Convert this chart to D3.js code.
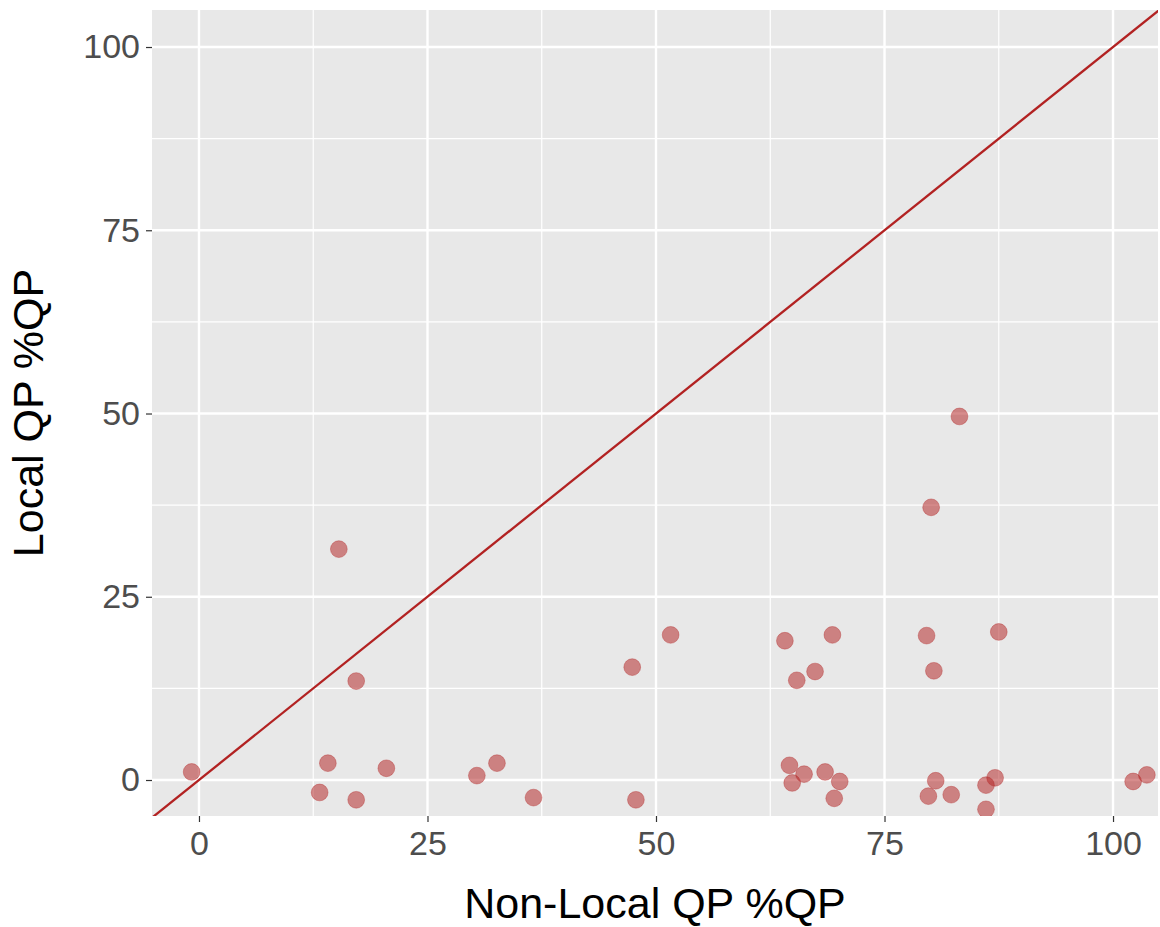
<!DOCTYPE html>
<html>
<head>
<meta charset="utf-8">
<script src="https://cdn.jsdelivr.net/npm/d3@7"></script>
<style>
  html, body { margin: 0; padding: 0; background: #ffffff; }
  svg { display: block; font-family: "Liberation Sans", Arial, Helvetica, sans-serif; }
</style>
</head>
<body>
<svg id="chart" width="1160" height="927"></svg>
<script>
// Non-local vs local qualifying-point share, one point per player
const nonLocalQP = [
  -0.8, 14.1, 13.2, 17.2, 17.2, 15.3, 20.5,
  30.4, 32.6, 36.6,
  47.4, 47.8, 51.6,
  64.1, 69.3, 67.4, 65.4, 64.6, 64.9, 66.2, 68.5, 70.1, 69.5,
  83.2, 80.1, 79.6, 87.5, 80.4, 80.6, 79.8, 82.3, 87.1, 86.1, 86.1,
  102.2, 103.7
];
const localQP = [
  1.1, 2.3, -1.7, -2.7, 13.5, 31.5, 1.6,
  0.6, 2.3, -2.4,
  15.4, -2.7, 19.8,
  19.0, 19.8, 14.8, 13.6, 2.0, -0.4, 0.8, 1.1, -0.2, -2.5,
  49.6, 37.2, 19.7, 20.2, 14.9, -0.1, -2.2, -2.0, 0.3, -0.7, -4.0,
  -0.2, 0.7
];
const xTicks = [0, 25, 50, 75, 100];
const yTicks = [0, 25, 50, 75, 100];
const xMinor = [12.5, 37.5, 62.5, 87.5];
const yMinor = [12.5, 37.5, 62.5, 87.5];
const xDomain = [-5.14, 104.92];
const yDomain = [-4.91, 105.05];

const svg = d3.select("#chart");
const panel = { left: 152, top: 10, right: 1158, bottom: 816 };

const x = d3.scaleLinear().domain(xDomain).range([panel.left, panel.right]);
const y = d3.scaleLinear().domain(yDomain).range([panel.bottom, panel.top]);

// panel background
svg.append("rect")
  .attr("x", panel.left).attr("y", panel.top)
  .attr("width", panel.right - panel.left)
  .attr("height", panel.bottom - panel.top)
  .attr("fill", "#E8E8E8");

const grid = svg.append("g");
// minor grid
grid.selectAll(".vminor").data(xMinor).join("line")
  .attr("x1", d => x(d)).attr("x2", d => x(d))
  .attr("y1", panel.top).attr("y2", panel.bottom)
  .attr("stroke", "#ffffff").attr("stroke-width", 1.2);
grid.selectAll(".hminor").data(yMinor).join("line")
  .attr("y1", d => y(d)).attr("y2", d => y(d))
  .attr("x1", panel.left).attr("x2", panel.right)
  .attr("stroke", "#ffffff").attr("stroke-width", 1.2);
// major grid
grid.selectAll(".vmajor").data(xTicks).join("line")
  .attr("x1", d => x(d)).attr("x2", d => x(d))
  .attr("y1", panel.top).attr("y2", panel.bottom)
  .attr("stroke", "#ffffff").attr("stroke-width", 2.4);
grid.selectAll(".hmajor").data(yTicks).join("line")
  .attr("y1", d => y(d)).attr("y2", d => y(d))
  .attr("x1", panel.left).attr("x2", panel.right)
  .attr("stroke", "#ffffff").attr("stroke-width", 2.4);

// identity line y = x, clipped to the panel
svg.append("clipPath").attr("id", "panel-clip")
  .append("rect")
  .attr("x", panel.left).attr("y", panel.top)
  .attr("width", panel.right - panel.left)
  .attr("height", panel.bottom - panel.top);

const lo = Math.min(xDomain[0], yDomain[0]) - 10;
const hi = Math.max(xDomain[1], yDomain[1]) + 10;
svg.append("line")
  .attr("clip-path", "url(#panel-clip)")
  .attr("x1", x(lo)).attr("y1", y(lo))
  .attr("x2", x(hi)).attr("y2", y(hi))
  .attr("stroke", "#B22222").attr("stroke-width", 2.3);

// points
const pts = nonLocalQP.map((v, i) => ({ nx: v, lq: localQP[i] }));
svg.append("g").attr("clip-path", "url(#panel-clip)")
  .selectAll("circle").data(pts).join("circle")
  .attr("cx", d => x(d.nx)).attr("cy", d => y(d.lq))
  .attr("r", 8.4)
  .attr("fill", "#B22222").attr("fill-opacity", 0.52)
  .attr("stroke", "#B22222").attr("stroke-opacity", 0.35).attr("stroke-width", 1);

// axes
const xAxis = d3.axisBottom(x).tickValues(xTicks).tickSize(6).tickPadding(9).tickFormat(d3.format("d"));
const yAxis = d3.axisLeft(y).tickValues(yTicks).tickSize(6).tickPadding(6).tickFormat(d3.format("d"));

const gx = svg.append("g").attr("transform", `translate(0,${panel.bottom})`).call(xAxis);
const gy = svg.append("g").attr("transform", `translate(${panel.left},0)`).call(yAxis);
[gx, gy].forEach(g => {
  g.select(".domain").remove();
  g.selectAll(".tick line").attr("stroke", "#333333").attr("stroke-width", 1.2);
  g.selectAll(".tick text")
    .attr("fill", "#4D4D4D")
    .style("font-size", "34px")
    .style("font-family", "'Liberation Sans', Arial, Helvetica, sans-serif");
});
gx.selectAll(".tick text").attr("dy", "0.71em");

// axis titles
svg.append("text")
  .attr("x", (panel.left + panel.right) / 2)
  .attr("y", 918)
  .attr("text-anchor", "middle")
  .attr("fill", "#000000")
  .style("font-size", "43px")
  .text("Non-Local QP %QP");

svg.append("text")
  .attr("transform", `translate(43,${(panel.top + panel.bottom) / 2}) rotate(-90)`)
  .attr("text-anchor", "middle")
  .attr("fill", "#000000")
  .style("font-size", "43px")
  .text("Local QP %QP");
</script>
</body>
</html>
